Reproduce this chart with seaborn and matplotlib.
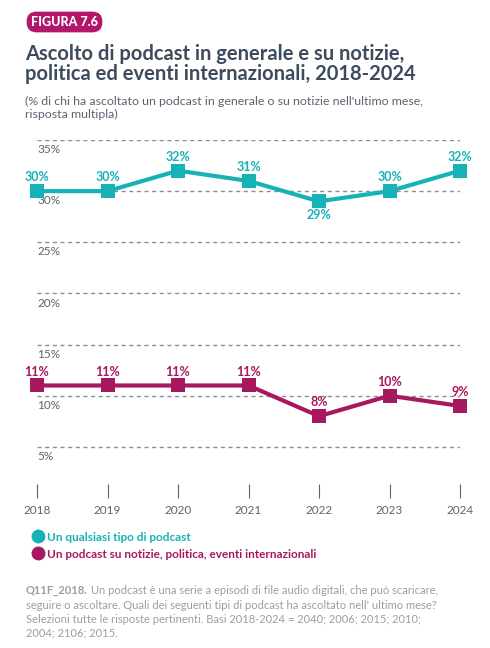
import matplotlib
matplotlib.use("Agg")
import matplotlib.pyplot as plt
import seaborn as sns
import pandas as pd
from matplotlib.lines import Line2D

# dati
anni = [2018, 2019, 2020, 2021, 2022, 2023, 2024]
qualsiasi = [30, 30, 32, 31, 29, 30, 32]
notizie = [11, 11, 11, 11, 8, 10, 9]
etichette_qualsiasi = ["30%", "30%", "32%", "31%", "29%", "30%", "32%"]
etichette_notizie = ["11%", "11%", "11%", "11%", "8%", "10%", "9%"]
ticks_y = [5, 10, 15, 20, 25, 30, 35]
serie_nomi = ["Un qualsiasi tipo di podcast",
              "Un podcast su notizie, politica, eventi internazionali"]

TEAL = "#17b2b5"
MAGENTA = "#a8185f"
TITOLO = "#3c4c5c"
GRIGIO = "#5a6470"
GRIGIO_NOTE = "#9a9ea4"

def main():
    sns.set_style("white")
    plt.rcParams["font.family"] = ["Lato", "DejaVu Sans"]

    df = pd.DataFrame({
        "anno": anni * 2,
        "valore": qualsiasi + notizie,
        "serie": [serie_nomi[0]] * len(anni) + [serie_nomi[1]] * len(anni),
    })

    fig = plt.figure(figsize=(4.9, 6.48), dpi=100)
    ax = fig.add_axes([37 / 490, 1 - 498 / 648, (460 - 37) / 490, (498 - 140) / 648])

    sns.lineplot(data=df, x="anno", y="valore", hue="serie",
                 palette=[TEAL, MAGENTA], marker="s", markersize=10,
                 markeredgewidth=0, linewidth=3, legend=False, ax=ax,
                 clip_on=False, zorder=5)

    ax.set_xlim(2018, 2024)
    ax.set_ylim(0, 35)
    for s in ax.spines.values():
        s.set_visible(False)

    # griglia tratteggiata + etichette sotto le linee
    for t in ticks_y:
        ax.axhline(t, color="#8a8f96", lw=1, ls=(0, (3, 2.5)), zorder=1)
        ax.annotate(f"{t}%", (2018, t), xytext=(0, -3), textcoords="offset points",
                    ha="left", va="top", fontsize=8.5, color=GRIGIO)

    ax.set_yticks([])
    ax.set_xticks(anni)
    ax.set_xticklabels([str(a) for a in anni])
    ax.tick_params(axis="x", bottom=True, length=10, width=0.8, color=GRIGIO,
                   direction="in", labelsize=8.5, labelcolor=GRIGIO, pad=5)
    ax.set_xlabel("")
    ax.set_ylabel("")

    # etichette dati
    for a, v, l in zip(anni, qualsiasi, etichette_qualsiasi):
        off = -10 if l == "29%" else 10
        ax.annotate(l, (a, v), xytext=(0, off), textcoords="offset points",
                    ha="center", va="center", fontsize=9, fontweight="bold", color=TEAL)
    for a, v, l in zip(anni, notizie, etichette_notizie):
        ax.annotate(l, (a, v), xytext=(0, 10), textcoords="offset points",
                    ha="center", va="center", fontsize=9, fontweight="bold", color=MAGENTA)

    # badge e titoli
    fig.text(31 / 490, 1 - 22 / 648, "FIGURA 7.6", fontsize=9, fontweight="black",
             color="white", va="center", ha="left",
             bbox=dict(boxstyle="round,pad=0.35,rounding_size=0.8", fc="#b3176a", ec="none"))
    fig.text(25 / 490, 1 - 44 / 648,
             "Ascolto di podcast in generale e su notizie,\npolitica ed eventi internazionali, 2018-2024",
             fontsize=14.5, fontweight="bold", color=TITOLO, va="top", ha="left", linespacing=1.0)
    fig.text(25 / 490, 1 - 96 / 648,
             "(% di chi ha ascoltato un podcast in generale o su notizie nell'ultimo mese,\nrisposta multipla)",
             fontsize=8.9, color=GRIGIO, va="top", ha="left", linespacing=1.2)

    # legenda
    handles = [Line2D([], [], marker="o", ls="", color=c, markersize=9) for c in (TEAL, MAGENTA)]
    leg = fig.legend(handles, serie_nomi, loc="upper left",
                     bbox_to_anchor=(20 / 490, 1 - 521 / 648), frameon=False,
                     handletextpad=0.2, labelspacing=0.5, handlelength=1.2,
                     prop={"size": 8.5, "weight": "bold"})
    for txt, c in zip(leg.get_texts(), (TEAL, MAGENTA)):
        txt.set_color(c)

    # nota
    fig.canvas.draw()
    r = fig.canvas.get_renderer()
    y0 = 1 - 585 / 648
    t1 = fig.text(26 / 490, y0, "Q11F_2018.", fontsize=8, fontweight="bold",
                  color=GRIGIO_NOTE, va="top", ha="left")
    bb = t1.get_window_extent(r)
    x2 = (bb.x1 + 3) / fig.bbox.width
    fig.text(x2, y0,
             "Un podcast è una serie a episodi di file audio digitali, che può scaricare,",
             fontsize=8, color=GRIGIO_NOTE, va="top", ha="left")
    fig.text(26 / 490, y0 - 15 / 648,
             "seguire o ascoltare. Quali dei seguenti tipi di podcast ha ascoltato nell' ultimo mese?\n"
             "Selezioni tutte le risposte pertinenti. Basi 2018-2024 = 2040; 2006; 2015; 2010;\n"
             "2004; 2106; 2015.",
             fontsize=8, color=GRIGIO_NOTE, va="top", ha="left", linespacing=1.3)

    fig.savefig("out.png", dpi=100)

if __name__ == "__main__":
    main()
